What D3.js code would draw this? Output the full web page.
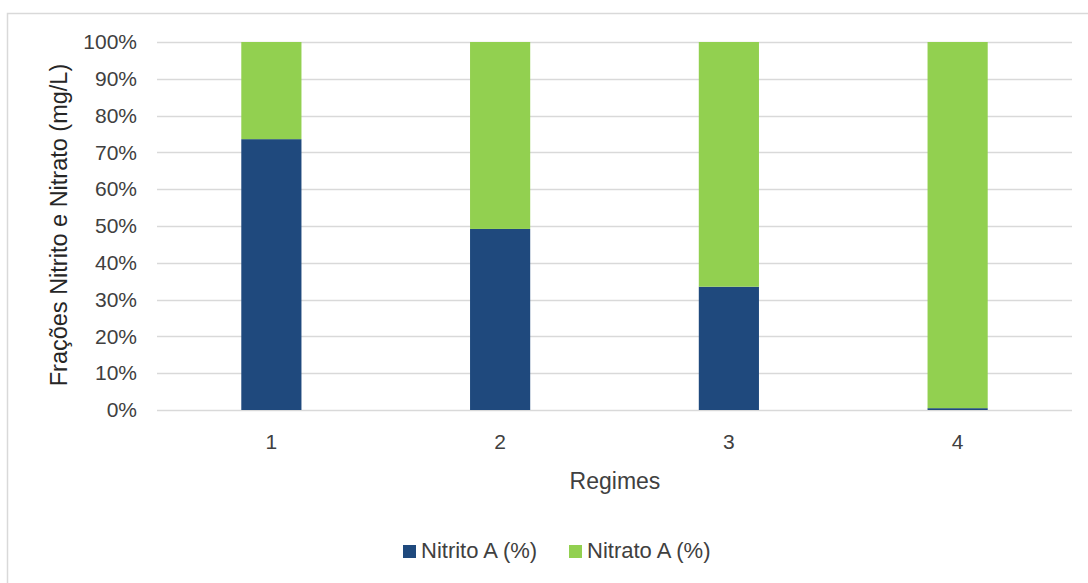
<!DOCTYPE html>
<html>
<head>
<meta charset="utf-8">
<script src="https://cdn.jsdelivr.net/npm/d3@7"></script>
<style>
  html, body { margin: 0; padding: 0; background: #fff; }
  svg { display: block; font-family: "Liberation Sans", Arial, sans-serif; }
</style>
</head>
<body>
<svg id="chart" width="1088" height="583"></svg>
<script>
// Regimes and the share of each fraction (%)
const regimes = ["1", "2", "3", "4"];
const nitrito = [73.6, 49.2, 33.5, 0.5];
const nitrato = [26.4, 50.8, 66.5, 99.5];
const seriesNames = ["Nitrito A (%)", "Nitrato A (%)"];
const seriesColors = ["#1F497D", "#92D050"];
const yTicks = [0, 10, 20, 30, 40, 50, 60, 70, 80, 90, 100];

const svg = d3.select("#chart");
const W = 1088, H = 583;
const plot = { left: 157, right: 1072, top: 42, bottom: 410 };

// chart frame
svg.append("rect")
  .attr("x", 7.5).attr("y", 13.5)
  .attr("width", W + 10).attr("height", H + 10)
  .attr("fill", "#fff").attr("stroke", "#D9D9D9").attr("stroke-width", 1.5);

const x = d3.scaleBand().domain(regimes).range([plot.left, plot.right]).paddingInner(0.737).paddingOuter(0.3685);
const y = d3.scaleLinear().domain([0, 100]).range([plot.bottom, plot.top]);

// gridlines
svg.append("g").selectAll("line").data(yTicks).join("line")
  .attr("x1", plot.left).attr("x2", plot.right)
  .attr("y1", d => Math.round(y(d)) + 0.5).attr("y2", d => Math.round(y(d)) + 0.5)
  .attr("stroke", "#D9D9D9").attr("stroke-width", 1.3);

// y axis labels
const yAxis = d3.axisLeft(y).tickValues(yTicks).tickFormat(d => d + "%").tickSize(0).tickPadding(0);
const gy = svg.append("g").attr("transform", `translate(${plot.left - 20},0)`).call(yAxis);
gy.select(".domain").remove();
gy.selectAll("text").attr("font-size", 21).attr("fill", "#404040")
  .attr("font-family", "Liberation Sans, Arial, sans-serif");

// x axis labels
const xAxis = d3.axisBottom(x).tickSize(0).tickPadding(0);
const gx = svg.append("g").attr("transform", `translate(0,${plot.bottom + 24})`).call(xAxis);
gx.select(".domain").remove();
gx.selectAll("text").attr("font-size", 21).attr("fill", "#404040")
  .attr("font-family", "Liberation Sans, Arial, sans-serif");

// stacked bars
const rows = regimes.map((r, i) => ({ regime: r, nitrito: nitrito[i], nitrato: nitrato[i] }));
const stack = d3.stack().keys(["nitrito", "nitrato"]);
const layers = stack(rows);
svg.append("g").selectAll("g").data(layers).join("g")
  .attr("fill", (d, i) => seriesColors[i])
  .selectAll("rect").data(d => d).join("rect")
  .attr("x", d => x(d.data.regime))
  .attr("width", x.bandwidth())
  .attr("y", d => y(d[1]))
  .attr("height", d => y(d[0]) - y(d[1]));

// axis titles
svg.append("text")
  .attr("x", 615).attr("y", 489)
  .attr("text-anchor", "middle").attr("font-size", 23).attr("fill", "#404040")
  .text("Regimes");
svg.append("text")
  .attr("transform", `translate(67,${(plot.top + plot.bottom) / 2 - 1}) rotate(-90)`)
  .attr("text-anchor", "middle").attr("font-size", 23.5).attr("fill", "#262626")
  .text("Frações Nitrito e Nitrato (mg/L)");

// legend
const legendX = [403, 569];
const lg = svg.append("g").selectAll("g").data(seriesNames).join("g")
  .attr("transform", (d, i) => `translate(${legendX[i]},545)`);
lg.append("rect").attr("width", 13).attr("height", 13).attr("fill", (d, i) => seriesColors[i]);
lg.append("text").attr("x", 18).attr("y", 13).attr("font-size", 22).attr("fill", "#404040").text(d => d);
</script>
</body>
</html>
